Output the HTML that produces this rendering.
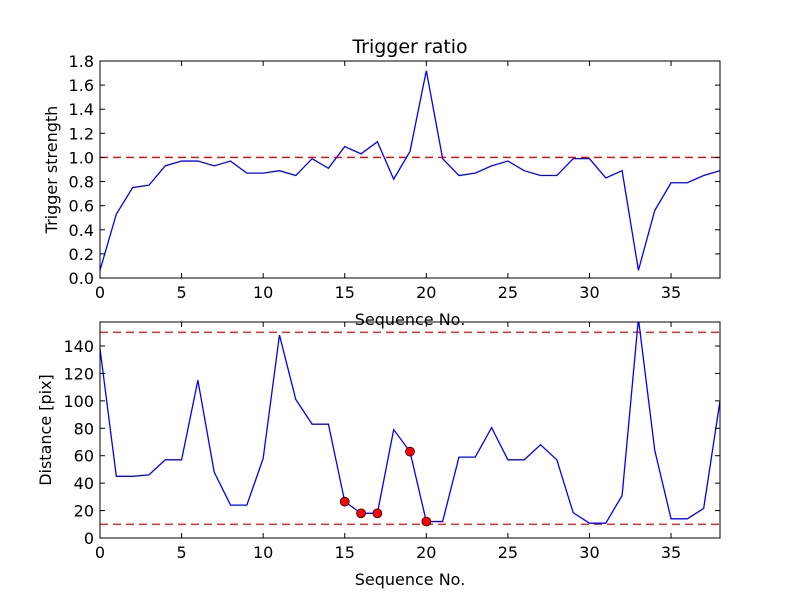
<!DOCTYPE html>
<html><head><meta charset="utf-8"><style>
body{margin:0;background:#fff;}
svg{display:block;font-family:"DejaVu Sans","Liberation Sans",sans-serif;}
</style></head><body>
<svg id="chart" width="800" height="600" viewBox="0 0 800 600"></svg>
<script>
const seqIndex = [0,1,2,3,4,5,6,7,8,9,10,11,12,13,14,15,16,17,18,19,20,21,22,23,24,25,26,27,28,29,30,31,32,33,34,35,36,37,38];
const triggerStrength = [0.064,0.53,0.75,0.77,0.93,0.97,0.97,0.93,0.97,0.87,0.87,0.89,0.85,0.99,0.91,1.09,1.03,1.13,0.82,1.05,1.72,0.99,0.85,0.87,0.93,0.97,0.89,0.85,0.85,0.99,0.99,0.83,0.89,0.064,0.56,0.79,0.79,0.85,0.89];
const distance = [138,45,45,46,57,57,115,48,24,24,58,148,101,83,83,26.5,18,18,79,63,12,12,59,59,80.5,57,57,68,57,18.5,10.8,10.8,31,160,64,14,14,21.6,100];
const flaggedIdx = [15,16,17,19,20];
const triggerThreshold = [1.0];
const distanceThresholds = [10,150];
const xTicks = [0,5,10,15,20,25,30,35];
const topYTicks = [0,0.2,0.4,0.6,0.8,1.0,1.2,1.4,1.6,1.8];
const botYTicks = [0,20,40,60,80,100,120,140];

const NS="http://www.w3.org/2000/svg";
const svg=document.getElementById('chart');
function el(tag,attrs,parent){const e=document.createElementNS(NS,tag);for(const k in attrs)e.setAttribute(k,attrs[k]);(parent||svg).appendChild(e);return e;}

function panel(o){
  const g=el('g',{});
  
  
  const L=100,R=720,T=o.top,B=o.bottom;
  const xs=v=>L+(v-0)/(38-0)*(R-L);
  const ys=v=>B-(v-o.ymin)/(o.ymax-o.ymin)*(B-T);
  const clipId='clip'+o.top;
  const cp=el('clipPath',{id:clipId},g);el('rect',{x:L,y:T,width:R-L,height:B-T},cp);
  o.hlines.forEach(h=>{
    const ln=el('line',{x1:L,x2:R,y1:ys(h),y2:ys(h),stroke:'#ff0000','stroke-width':1.3,'stroke-dasharray':'8,5'},g);
    
    
  });
  const pts=seqIndex.map((x,i)=>xs(x).toFixed(2)+','+ys(o.values[i]).toFixed(2)).join(' ');
  const pl=el('polyline',{points:pts,fill:'none',stroke:'#0000ff','stroke-width':1.3,'clip-path':'url(#'+clipId+')'},g);
  
  
  if(o.markers){
    o.markers.forEach(i=>{
      const c=el('circle',{cx:xs(seqIndex[i]),cy:ys(o.values[i]),r:4.5,fill:'#ff0000',stroke:'#000','stroke-width':0.7},g);
      
      
    });
  }
  el('rect',{x:L,y:T,width:R-L,height:B-T,fill:'none',stroke:'#000','stroke-width':1},g);
  xTicks.forEach(t=>{
    const x=xs(t);
    el('line',{x1:x,x2:x,y1:B,y2:B-5,stroke:'#000'},g);
    el('line',{x1:x,x2:x,y1:T,y2:T+5,stroke:'#000'},g);
    const tx=el('text',{x:x,y:B+20,'text-anchor':'middle','font-size':16},g);tx.textContent=t;
    
    
  });
  o.yticks.forEach(t=>{
    const y=ys(t);
    el('line',{x1:L,x2:L+5,y1:y,y2:y,stroke:'#000'},g);
    el('line',{x1:R,x2:R-5,y1:y,y2:y,stroke:'#000'},g);
    const tx=el('text',{x:L-6,y:y+6,'text-anchor':'end','font-size':16},g);tx.textContent=o.fmt(t);
    
    
  });
  const xl=el('text',{x:410,y:B+47,'text-anchor':'middle','font-size':16},g);xl.textContent='Sequence No.';
  
  
  const yl=el('text',{x:0,y:0,'text-anchor':'middle','font-size':16,transform:'translate('+o.ylx+','+((T+B)/2)+') rotate(-90)'},g);yl.textContent=o.ylabel;
  
  
}
panel({name:'trigger-ratio-panel',top:61,bottom:278,ymin:0,ymax:1.8,values:triggerStrength,hlines:triggerThreshold,yticks:topYTicks,fmt:v=>v.toFixed(1),ylabel:'Trigger strength',ylx:57,seriesName:'trigger-strength-line'});
panel({name:'distance-panel',top:322,bottom:538,ymin:0,ymax:157.5,values:distance,hlines:distanceThresholds,yticks:botYTicks,fmt:v=>String(v),ylabel:'Distance [pix]',ylx:51,seriesName:'distance-line',markers:flaggedIdx});
const title=el('text',{x:410,y:53,'text-anchor':'middle','font-size':19});title.textContent='Trigger ratio';


</script>
</body></html>
